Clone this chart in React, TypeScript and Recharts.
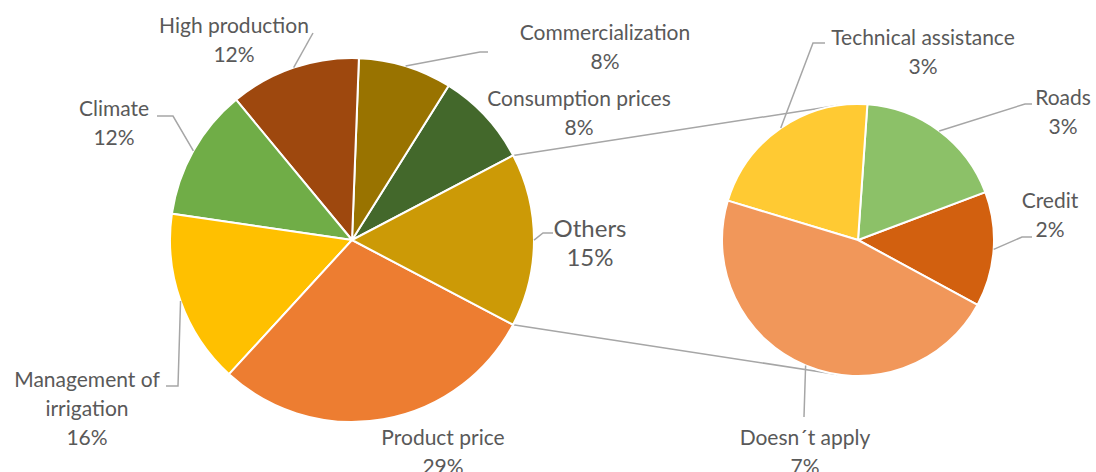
import React from 'react';
import { PieChart, Pie, Cell } from 'recharts';

// ---- Data ----
const mainCategories = [
  'Consumption prices',
  'Commercialization',
  'High production',
  'Climate',
  'Management of irrigation',
  'Product price',
  'Others',
];
const mainValues = [8.4, 8.3, 11.6, 11.7, 15.5, 29.1, 15.4];
const mainColors = ['#43682B', '#997300', '#9E480E', '#70AD47', '#FFC000', '#ED7D31', '#CC9A06'];

const subCategories = ['Credit', 'Roads', 'Technical assistance', 'Doesn´t apply'];
const subValues = [2.1, 2.8, 3.3, 7.2];
const subColors = ['#D2600F', '#8CC168', '#FFCA33', '#F1975A'];

const mainData = mainCategories.map((name, i) => ({ name, value: mainValues[i] }));
const subData = subCategories.map((name, i) => ({ name, value: subValues[i] }));

// ---- Layout ----
const W = 1096;
const H = 472;
const MAIN = { cx: 352, cy: 240, r: 182, start: 27.7 };
const SUB = { cx: 858, cy: 240, r: 136, start: -28.5 };
const TEXT = '#595959';
const LINE = '#A6A6A6';
const FONT = 'Lato, "Liberation Sans", sans-serif';
const FS = 21;
const LH = 29;

type LabelLayout = { x: number; y: number; fs?: number; wrap?: number; lead?: number[][] };
const labelLayout: Record<string, LabelLayout> = {
  'Consumption prices': { x: 579, y: 106 },
  Commercialization: { x: 605, y: 40, lead: [[480, 52], [488, 52]] },
  'High production': { x: 234, y: 33, lead: [[313, 33]] },
  Climate: { x: 114, y: 116, lead: [[173, 116], [157, 116]] },
  'Management of irrigation': { x: 87, y: 387, wrap: 14, lead: [[178, 386], [166, 386]] },
  'Product price': { x: 443, y: 445 },
  Others: { x: 590, y: 237, fs: 24, lead: [[543, 233], [553, 233]] },
  Credit: { x: 1050, y: 208, lead: [[1022, 237], [1032, 237]] },
  Roads: { x: 1063, y: 105, lead: [[1025, 104], [1032, 104]] },
  'Technical assistance': { x: 923, y: 45, lead: [[813, 43], [825, 43]] },
  'Doesn´t apply': { x: 805, y: 445, lead: [[804, 417]] },
};

const RAD = Math.PI / 180;

function wrapText(s: string, max?: number): string[] {
  if (!max) return [s];
  const words = s.split(' ');
  const lines: string[] = [];
  let cur = '';
  for (const w of words) {
    const t = cur ? cur + ' ' + w : w;
    if (t.length > max && cur) {
      lines.push(cur);
      cur = w;
    } else cur = t;
  }
  if (cur) lines.push(cur);
  return lines;
}

const renderLabel = (props: any) => {
  const { cx, cy, midAngle, outerRadius } = props;
  const name: string = props.name ?? props.payload?.name;
  const value: number = props.value ?? props.payload?.value;
  const L = labelLayout[name];
  if (!L) return null;
  const sx = cx + outerRadius * Math.cos(-midAngle * RAD);
  const sy = cy + outerRadius * Math.sin(-midAngle * RAD);
  const lines = [...wrapText(name, L.wrap), `${Math.round(value)}%`];
  const fs = L.fs ?? FS;
  return (
    <g>
      {L.lead && (
        <polyline
          points={[[sx, sy], ...L.lead].map((p) => p.join(',')).join(' ')}
          fill="none"
          stroke={LINE}
          strokeWidth={1.5}
        />
      )}
      <text x={L.x} y={L.y} textAnchor="middle" fill={TEXT} fontSize={fs} fontFamily={FONT}>
        {lines.map((ln, i) => (
          <tspan key={i} x={L.x} y={L.y + i * LH}>
            {ln}
          </tspan>
        ))}
      </text>
    </g>
  );
};

// connector lines from the "Others" slice edges to the secondary pie (tangent lines)
function Connectors() {
  const total = mainValues.reduce((a, b) => a + b, 0);
  const othersIdx = mainCategories.indexOf('Others');
  const before = mainValues.slice(0, othersIdx).reduce((a, b) => a + b, 0);
  const aLower = MAIN.start + (360 * before) / total; // start of Others (below horizontal)
  const aUpper = MAIN.start + 360; // end of Others (above horizontal)
  const pt = (ang: number) => [MAIN.cx + MAIN.r * Math.cos(-ang * RAD), MAIN.cy + MAIN.r * Math.sin(-ang * RAD)];
  const tangent = (p: number[], upper: boolean) => {
    const dx = p[0] - SUB.cx;
    const dy = p[1] - SUB.cy;
    const d = Math.sqrt(dx * dx + dy * dy);
    const phi = Math.atan2(dy, dx);
    const alpha = Math.acos(SUB.r / d);
    const t = upper ? phi + alpha : phi - alpha;
    return [SUB.cx + SUB.r * Math.cos(t), SUB.cy + SUB.r * Math.sin(t)];
  };
  const up = pt(aUpper);
  const lo = pt(aLower);
  const tu = tangent(up, true);
  const tl = tangent(lo, false);
  return (
    <svg width={W} height={H} style={{ position: 'absolute', left: 0, top: 0, pointerEvents: 'none' }}>
      <line x1={up[0]} y1={up[1]} x2={tu[0]} y2={tu[1]} stroke={LINE} strokeWidth={1.5} />
      <line x1={lo[0]} y1={lo[1]} x2={tl[0]} y2={tl[1]} stroke={LINE} strokeWidth={1.5} />
    </svg>
  );
}

export default function App() {
  return (
    <div style={{ position: 'absolute', left: 0, top: 0, width: W, height: H, background: '#fff', overflow: 'hidden' }}>
      <Connectors />
      <div style={{ position: 'absolute', left: 0, top: 0 }}>
        <PieChart width={W} height={H} margin={{ top: 0, right: 0, bottom: 0, left: 0 }}>
          <Pie
            data={mainData}
            dataKey="value"
            nameKey="name"
            cx={MAIN.cx}
            cy={MAIN.cy}
            outerRadius={MAIN.r}
            startAngle={MAIN.start}
            endAngle={MAIN.start + 360}
            stroke="#fff"
            strokeWidth={2}
            label={renderLabel}
            labelLine={false}
            isAnimationActive={false}
          >
            {mainData.map((d, i) => (
              <Cell key={d.name} fill={mainColors[i]} />
            ))}
          </Pie>
          <Pie
            data={subData}
            dataKey="value"
            nameKey="name"
            cx={SUB.cx}
            cy={SUB.cy}
            outerRadius={SUB.r}
            startAngle={SUB.start}
            endAngle={SUB.start + 360}
            stroke="#fff"
            strokeWidth={2}
            label={renderLabel}
            labelLine={false}
            isAnimationActive={false}
          >
            {subData.map((d, i) => (
              <Cell key={d.name} fill={subColors[i]} />
            ))}
          </Pie>
        </PieChart>
      </div>
    </div>
  );
}
